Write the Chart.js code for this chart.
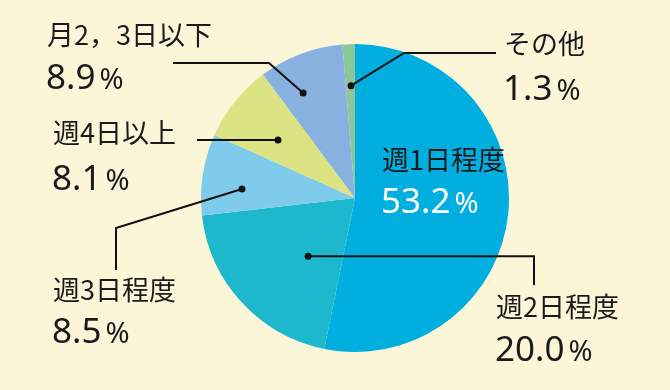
<!DOCTYPE html>
<html>
<head>
<meta charset="utf-8">
<script src="https://cdn.jsdelivr.net/npm/chart.js@4"></script>
<style>
  html, body { margin: 0; padding: 0; background: #fcf6d8; }
  #wrap { width: 670px; height: 390px; position: relative; }
</style>
</head>
<body>
<div id="wrap"><canvas id="pie"></canvas></div>
<script>
// data
var labels = ['週1日程度', '週2日程度', '週3日程度', '週4日以上', '月2，3日以下', 'その他'];
var values = [53.2, 20.0, 8.5, 8.1, 8.9, 1.3];
var valueLabels = ['53.2', '20.0', '8.5', '8.1', '8.9', '1.3'];

var colors = ['#00aee0', '#1eb8ce', '#7fcbec', '#dbe383', '#88b1df', '#8cc79a'];

// label placement: name/value text position, where the dot sits in the slice, leader path
// y: null in a path point means "same y as the dot"
var layout = [
  { x: 382, nameY: 170, valY: 213, white: true },
  { x: 496, nameY: 317, valY: 361, t: 0.38, rf: 0.485, path: [[534, null], [534, 285]] },
  { x: 53, nameY: 300, valY: 343, t: 0.36, rf: 0.736, path: [[116, 228], [116, 270]] },
  { x: 53, nameY: 143, valY: 190, t: 0.44, rf: 0.626, path: [[197, null]] },
  { x: 47, nameY: 45, valY: 89, t: 0.325, rf: 0.76, path: [[269, 63], [173, 63]] },
  { x: 504, nameY: 54, valY: 100, t: 0.57, rf: 0.73, path: [[404, 53], [496, 53]] }
];

var labelPlugin = {
  id: 'pieLabels',
  afterDatasetsDraw: function (chart) {
    var ctx = chart.ctx;
    var arcs = chart.getDatasetMeta(0).data;
    ctx.save();
    for (var i = 0; i < arcs.length; i++) {
      var arc = arcs[i];
      var l = layout[i];
      if (l.path) {
        var a = arc.startAngle + l.t * (arc.endAngle - arc.startAngle);
        var r = arc.outerRadius * l.rf;
        var dx = arc.x + Math.cos(a) * r;
        var dy = arc.y + Math.sin(a) * r;
        ctx.strokeStyle = '#111';
        ctx.lineWidth = 2;
        ctx.beginPath();
        ctx.moveTo(dx, dy);
        l.path.forEach(function (p) {
          ctx.lineTo(p[0], p[1] === null ? dy : p[1]);
        });
        ctx.stroke();
        ctx.fillStyle = '#111';
        ctx.beginPath();
        ctx.arc(dx, dy, 3.5, 0, Math.PI * 2);
        ctx.fill();
      }
      ctx.textBaseline = 'alphabetic';
      ctx.textAlign = 'left';
      ctx.fillStyle = '#1a1a1a';
      ctx.font = '27px "Noto Sans CJK JP"';
      ctx.fillText(labels[i], l.x, l.nameY);
      ctx.fillStyle = l.white ? '#ffffff' : '#1a1a1a';
      ctx.font = '35px "Noto Sans"';
      ctx.fillText(valueLabels[i], l.x - 1, l.valY);
      var w = ctx.measureText(valueLabels[i]).width;
      ctx.font = '29px "Noto Sans"';
      ctx.fillText('%', l.x + w + 3, l.valY);
    }
    ctx.restore();
  }
};

new Chart(document.getElementById('pie'), {
  type: 'pie',
  data: {
    labels: labels,
    datasets: [{
      data: values,
      backgroundColor: colors,
      borderWidth: 0
    }]
  },
  options: {
    responsive: true,
    maintainAspectRatio: false,
    animation: false,
    layout: { padding: { left: 201, right: 161, top: 44, bottom: 38 } },
    plugins: {
      legend: { display: false },
      tooltip: { enabled: false }
    }
  },
  plugins: [labelPlugin]
});
</script>
</body>
</html>
